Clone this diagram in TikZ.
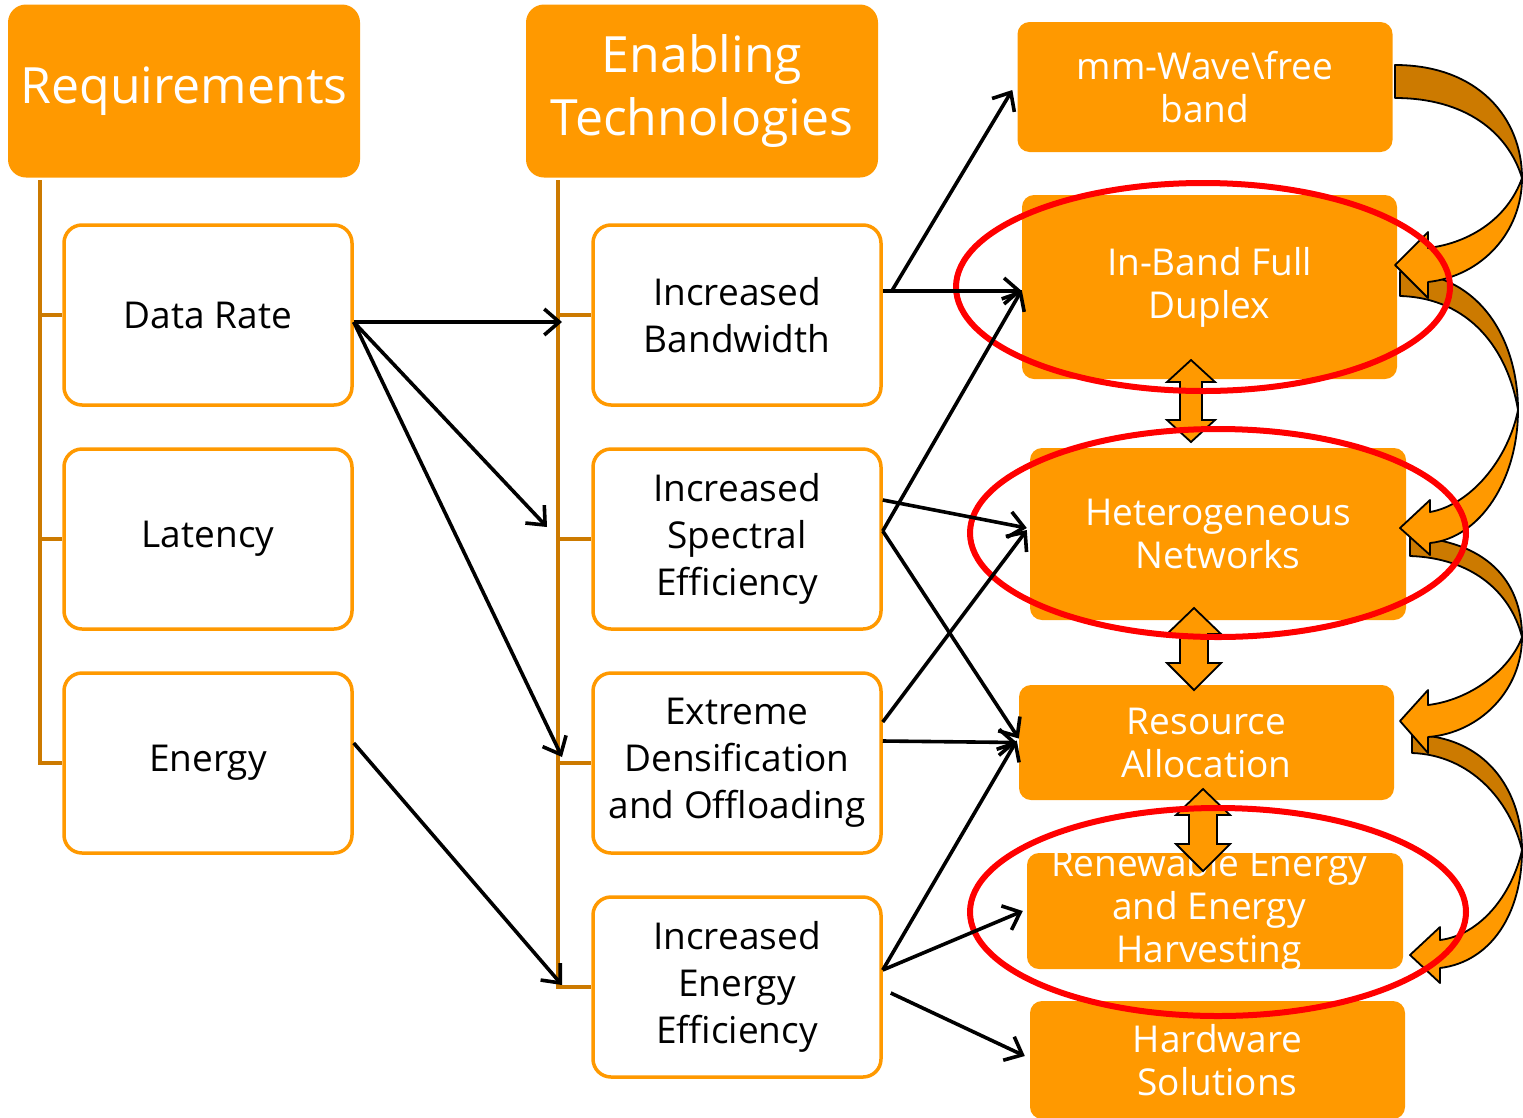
\documentclass[tikz,border=0pt]{standalone}
\usepackage{fontspec}
\setmainfont{Open Sans}
\usetikzlibrary{arrows.meta}
\definecolor{orng}{HTML}{FF9900}
\definecolor{dorng}{HTML}{CC7A00}
\tikzset{
  headbox/.style={rectangle, rounded corners=18pt, fill=orng, text=white, align=center, inner sep=0pt,
    minimum width=352pt, minimum height=173pt, font=\fontsize{50}{63}\selectfont},
  itembox/.style={rectangle, rounded corners=18pt, draw=orng, line width=3.5pt, fill=white, align=center,
    inner sep=0pt, minimum width=288pt, minimum height=180pt, font=\fontsize{37}{47}\selectfont},
  techbox/.style={rectangle, rounded corners=12pt, fill=orng, text=white, align=center, inner sep=0pt,
    minimum width=375pt, font=\fontsize{37}{43}\selectfont},
  trunk/.style={draw=dorng, line width=3.5pt},
  link/.style={-{Straight Barb[length=15pt,width=26pt]}, line width=3.6pt},
  ring/.style={draw=red, line width=6pt},
  backband/.style={fill=dorng, draw=black, line width=1.8pt, line join=round},
  frontband/.style={fill=orng, draw=black, line width=1.8pt, line join=round},
  blockarrow/.style={fill=orng, draw=black, line width=1.8pt},
}
\begin{document}
\begin{tikzpicture}[x=1pt, y=-1pt]
\useasboundingbox (0,0) rectangle (1523,1117);

% column heads
\node[headbox] (req) at (184,91) {\raisebox{-4pt}{Requirements}};
\node[headbox] (tech) at (702,91) {Enabling\\Technologies};

% requirements
\node[itembox] (rate) at (208,315) {Data Rate};
\node[itembox] (lat) at (208,539) {Latency};
\node[itembox] (energy) at (208,763) {Energy};

% enabling technologies
\node[itembox] (bw) at (737,315) {Increased\\Bandwidth};
\node[itembox] (se) at (737,539) {Increased\\Spectral\\Efficiency};
\node[itembox] (dense) at (737,763) {Extreme\\Densification\\and Offloading};
\node[itembox] (ee) at (737,987) {Increased\\Energy\\Efficiency};

% solutions
\node[techbox, minimum height=130pt] (mmw) at (1205,87) {mm-Wave\textbackslash free\\band};
\node[techbox, minimum height=184pt] (fd) at (1209.5,287) {In-Band Full\\Duplex};
\node[techbox, minimum width=376pt, minimum height=172pt] (hetnet) at (1218,534) {Heterogeneous\\Networks};
\node[techbox, minimum height=115pt] (alloc) at (1206.5,742.5) {Resource\\Allocation};
\node[techbox, minimum width=376pt, minimum height=116pt] (renew) at (1215,911) {};
\node[text=white, align=center, font=\fontsize{37}{43}\selectfont] (renewtext) at (1209,910) {Renewable Energy\\and Energy\\Harvesting};
\node[techbox, minimum height=118pt] (hw) at (1217.5,1060) {Hardware\\Solutions};

% trunk lines
\draw[trunk] (40,180) |- (energy.west);
\draw[trunk] (40,315) -- (rate.west);
\draw[trunk] (40,539) -- (lat.west);
\draw[trunk] (558,180) |- (ee.west);
\draw[trunk] (558,315) -- (bw.west);
\draw[trunk] (558,539) -- (se.west);
\draw[trunk] (558,763) -- (dense.west);

% curved arrows on the right
\filldraw[backband] (1395,65) .. controls (1478,65) and (1522,118) .. (1522,178) .. controls (1508,132) and (1465,98) .. (1395,98) -- cycle;
\filldraw[backband] (1400,272) .. controls (1480,272) and (1518,340) .. (1518,410) .. controls (1508,350) and (1470,298) .. (1400,296) -- cycle;
\filldraw[backband] (1410,537) .. controls (1485,540) and (1522,580) .. (1522,637) .. controls (1510,590) and (1470,558) .. (1410,556) -- cycle;
\filldraw[backband] (1412,735) .. controls (1485,735) and (1522,790) .. (1522,850) .. controls (1510,800) and (1470,755) .. (1412,753) -- cycle;
\filldraw[frontband] (1522,178) .. controls (1522,232) and (1482,276) .. (1428,282) -- (1428,298) -- (1395,265) -- (1428,232) -- (1428,248) .. controls (1470,243) and (1508,218) .. (1522,178) -- cycle;
\filldraw[frontband] (1518,410) .. controls (1518,480) and (1480,538) .. (1430,543) -- (1430,555) -- (1400,528) -- (1430,500) -- (1430,512) .. controls (1470,505) and (1508,460) .. (1518,410) -- cycle;
\filldraw[frontband] (1522,637) .. controls (1522,690) and (1480,733) .. (1428,737) -- (1428,753) -- (1400,721) -- (1428,690) -- (1428,705) .. controls (1470,700) and (1510,670) .. (1522,637) -- cycle;
\filldraw[frontband] (1522,850) .. controls (1522,915) and (1490,962) .. (1440,968) -- (1440,983) -- (1410,955) -- (1440,927) -- (1440,940) .. controls (1480,935) and (1512,895) .. (1522,850) -- cycle;

% double arrows between solutions
\filldraw[blockarrow] (1191,360) -- (1215,382) -- (1202,382) -- (1202,420) -- (1215,420) -- (1191,442) -- (1167,420) -- (1180,420) -- (1180,382) -- (1167,382) -- cycle;
\filldraw[blockarrow] (1194,608) -- (1221,634) -- (1208,634) -- (1208,663) -- (1221,663) -- (1194,690) -- (1167,663) -- (1180,663) -- (1180,634) -- (1167,634) -- cycle;
\filldraw[blockarrow] (1203,789) -- (1230,815) -- (1217,815) -- (1217,844) -- (1230,844) -- (1203,871) -- (1176,844) -- (1189,844) -- (1189,815) -- (1176,815) -- cycle;

% highlights
\draw[ring] (1203,287) ellipse [x radius=247pt, y radius=104pt];
\draw[ring] (1218,533) ellipse [x radius=248pt, y radius=104pt];
\draw[ring] (1218,912) ellipse [x radius=248pt, y radius=104pt];

% arrow ends on the trunk
\coordinate (bwin) at (562,322);
\coordinate (sein) at (547,527);
\coordinate (densein) at (562,757);
\coordinate (eein) at (562,985);

% requirements to technologies
\draw[link] ([yshift=-7pt]rate.east) -- (bwin);
\draw[link] ([yshift=-7pt]rate.east) -- (sein);
\draw[link] ([yshift=-7pt]rate.east) -- (densein);
\draw[link] ([yshift=20pt]energy.east) -- (eein);

% technologies to solutions
\draw[link] ([xshift=9pt,yshift=24pt]bw.east) -- ([xshift=-5pt,yshift=-3pt]mmw.west);
\draw[link] ([yshift=24pt]bw.east) -- ([yshift=-4pt]fd.west);
\draw[link] ([yshift=39pt]se.east) -- ([xshift=-3pt,yshift=6pt]hetnet.west);
\draw[link] ([yshift=8pt]se.east) -- ([yshift=-3pt]fd.west);
\draw[link] ([yshift=8pt]se.east) -- ([yshift=4pt]alloc.west);
\draw[link] ([yshift=41pt]dense.east) -- ([xshift=-3pt,yshift=4pt]hetnet.west);
\draw[link] ([yshift=22pt]dense.east) -- ([xshift=-2pt]alloc.west);
\draw[link] ([yshift=17pt]ee.east) -- ([xshift=-2pt,yshift=2pt]alloc.west);
\draw[link] ([yshift=17pt]ee.east) -- ([xshift=-4pt]renew.west);
\draw[link] ([xshift=8pt,yshift=-6pt]ee.east) -- ([xshift=-5pt,yshift=4pt]hw.west);
\end{tikzpicture}
\end{document}
